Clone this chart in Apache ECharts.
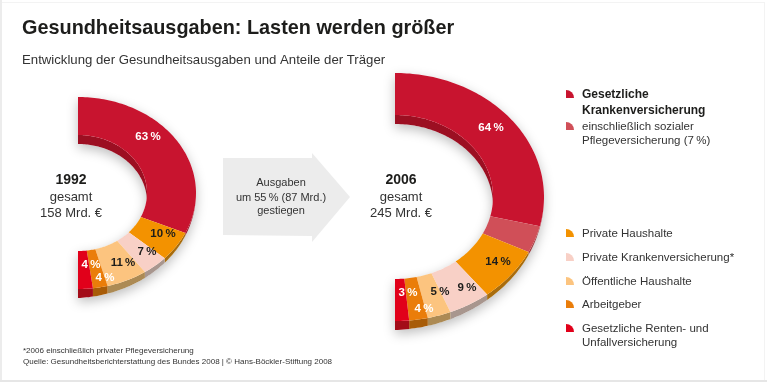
<!DOCTYPE html>
<html><head><meta charset="utf-8">
<style>html,body{margin:0;padding:0;background:#fff}#c{width:767px;height:382px}</style>
<script src="https://cdn.jsdelivr.net/npm/echarts@6/dist/echarts.min.js"></script>
</head><body><div id="c"></div>
<script>
const categories = ['Gesetzliche Krankenversicherung','einschließlich sozialer Pflegeversicherung (7 %)','Private Haushalte','Private Krankenversicherung*','Öffentliche Haushalte','Arbeitgeber','Gesetzliche Renten- und Unfallversicherung'];
const values1992 = [63,0,10,7,11,4,4];
const values2006 = [57,7,14,9,5,4,3];
const labels1992 = ['63','','10','7','11','4','4'];
const labels2006 = ['64','','14','9','5','4','3'];
const topColors  = ['#c8142f','#d04f58','#f39200','#f8d0c6','#fcc47f','#ea7d0a','#e1001a'];
const wallColors = ['#9c0f22','#a03a40','#a86c0c','#a8968e','#ac8a54','#a85c08','#a30c18'];
const labelColors= ['#fff','#fff','#1d1d1b','#1d1d1b','#1d1d1b','#fff','#fff'];

const FONT = '"Liberation Sans", Arial, sans-serif';
const INK = '#1d1d1b', GREY = '#333';

// layout of both half rings (elliptical because of the perspective)
const ring1992 = {cx:78, cy:193, rox:118, roy:96, rix:69, riy:58, depth:9,
  spots:[[148,137],null,[163,234],[147,252],[123,263],[105,278],[91,265]]};
const ring2006 = {cx:395, cy:197, rox:149, roy:124, rix:98, riy:82, depth:9,
  spots:[[491,128],null,[498,262],[467,288],[440,292],[424,309],[408,293]]};

const HALF = Math.PI / 2;
function arc(g, rx, ry, a, b, drop) {
  const pts = [], n = Math.max(2, Math.ceil(Math.abs(b - a) / 0.02));
  for (let i = 0; i <= n; i++) {
    const t = a + (b - a) * i / n;
    const dy = drop ? drop(t) : 0;
    pts.push([g.cx + rx * Math.sin(t), g.cy - ry * Math.cos(t) + dy]);
  }
  return pts;
}
function makeRing(name, values, labels, g) {
  const total = values.reduce((s, v) => s + v, 0);
  // the outer wall grows from nothing at the right to full depth at the bottom
  const outerDrop = t => g.depth * Math.pow(Math.max(0, t - HALF) / HALF, 0.9);
  const innerDrop = () => g.depth;
  return {
    type:'custom', name, coordinateSystem:'none', silent:true, clip:false,
    data: values.map((v, i) => ({value:[v, i]})),
    renderItem(params, api) {
      const i = params.dataIndex, v = api.value(0);
      let before = 0;
      for (let k = 0; k < i; k++) before += values[k];
      const a = before / total * Math.PI, b = (before + v) / total * Math.PI;
      const kids = [];
      if (i === 0) {
        const all = arc(g, g.rox, g.roy, 0, HALF).concat(arc(g, g.rox, g.roy, HALF, Math.PI, outerDrop))
          .concat(arc(g, g.rix, g.riy, Math.PI, HALF)).concat(arc(g, g.rix, g.riy, HALF, 0, innerDrop));
        kids.push({type:'polygon', shape:{points:all}, style:{fill:'#fff', shadowBlur:12, shadowColor:'rgba(0,0,0,0.26)', shadowOffsetY:4}});
      }
      if (v > 0) {
        const oa = Math.max(a, HALF);
        if (b > oa) kids.push({type:'polygon', shape:{points:arc(g, g.rox, g.roy, oa, b).concat(arc(g, g.rox, g.roy, b, oa, outerDrop))}, style:{fill:wallColors[i]}});
        const ib = Math.min(b, HALF);
        if (ib > a) kids.push({type:'polygon', shape:{points:arc(g, g.rix, g.riy, a, ib).concat(arc(g, g.rix, g.riy, ib, a, innerDrop))}, style:{fill:wallColors[i]}});
        kids.push({type:'polygon', shape:{points:arc(g, g.rox, g.roy, a, b).concat(arc(g, g.rix, g.riy, b, a))}, style:{fill:topColors[i]}});
      }
      return {type:'group', children:kids};
    }
  };
}
function text(x, y, t, size, opt) {
  return Object.assign({type:'text', x, y, z:20, style:Object.assign({text:t, fill:GREY, font:`${size}px ${FONT}`, textAlign:'left', textVerticalAlign:'middle'}, opt||{})});
}
function valueLabels(labels, g) {
  return labels.map((l, i) => l ? text(g.spots[i][0], g.spots[i][1], l + '\u2009%', 11.5, {fill:labelColors[i], font:`bold 11.5px ${FONT}`, textAlign:'center'}) : null).filter(Boolean);
}
const legendRows = [[0,95],[1,127],[2,234],[3,258],[4,282],[5,305],[6,329]];
const legendLines = [
  ['Gesetzliche',582,95,true],['Krankenversicherung',582,111,true],
  ['einschließlich sozialer',582,127],['Pflegeversicherung (7\u2009%)',582,141],
  ['Private Haushalte',582,234],['Private Krankenversicherung*',582,258],
  ['Öffentliche Haushalte',582,282],['Arbeitgeber',582,305],
  ['Gesetzliche Renten- und',582,329],['Unfallversicherung',582,343]];

const graphic = [
  {type:'rect', z:0, shape:{x:0,y:0,width:767,height:382}, style:{fill:'#fff'}},
  {type:'rect', z:1, shape:{x:0,y:0,width:2,height:382}, style:{fill:'#ececec'}},
  {type:'rect', z:1, shape:{x:0,y:380,width:767,height:2}, style:{fill:'#e6e6e6'}},
  {type:'rect', z:1, shape:{x:2,y:2,width:762,height:1}, style:{fill:'#f3f3f3'}},
  {type:'rect', z:1, shape:{x:764,y:2,width:1,height:378}, style:{fill:'#f3f3f3'}},
  {type:'polygon', z:1, shape:{points:[[223,158],[312,158],[312,153],[350,197],[312,242],[312,236],[223,235]]},
   style:{fill:'#ececec'}},
  text(22, 29, 'Gesundheitsausgaben: Lasten werden größer', 19.85, {fill:INK, font:`bold 19.85px ${FONT}`}),
  text(22, 60, 'Entwicklung der Gesundheitsausgaben und Anteile der Träger', 13.2),
  text(71, 180, '1992', 14, {fill:INK, font:`bold 14px ${FONT}`, textAlign:'center'}),
  text(71, 197, 'gesamt', 13, {textAlign:'center'}),
  text(71, 213, '158 Mrd. €', 13, {textAlign:'center'}),
  text(401, 180, '2006', 14, {fill:INK, font:`bold 14px ${FONT}`, textAlign:'center'}),
  text(401, 197, 'gesamt', 13, {textAlign:'center'}),
  text(401, 213, '245 Mrd. €', 13, {textAlign:'center'}),
  text(281, 183, 'Ausgaben', 11, {textAlign:'center'}),
  text(281, 198, 'um 55\u2009% (87 Mrd.)', 11, {textAlign:'center'}),
  text(281, 211, 'gestiegen', 11, {textAlign:'center'}),
  text(23, 351, '*2006 einschließlich privater Pflegeversicherung', 8),
  text(23, 362, 'Quelle: Gesundheitsberichterstattung des Bundes 2008 | © Hans-Böckler-Stiftung 2008', 8),
  ...legendLines.map(([t,x,y,b]) => text(x, y, t, b ? 12 : 11.5, b ? {fill:INK, font:`bold 12px ${FONT}`} : {})),
  ...legendRows.map(([i,y]) => ({type:'sector', z:20, shape:{cx:566, cy:y+3, r0:0, r:8, startAngle:-HALF, endAngle:0}, style:{fill:topColors[i]}})),
  ...valueLabels(labels1992, ring1992),
  ...valueLabels(labels2006, ring2006)
];

const chart = echarts.init(document.getElementById('c'), null, {renderer:'canvas'});
chart.setOption({
  animation:false,
  backgroundColor:'#fff',
  graphic:{elements:graphic},
  series:[makeRing('1992', values1992, labels1992, ring1992), makeRing('2006', values2006, labels2006, ring2006)]
});
</script></body></html>
